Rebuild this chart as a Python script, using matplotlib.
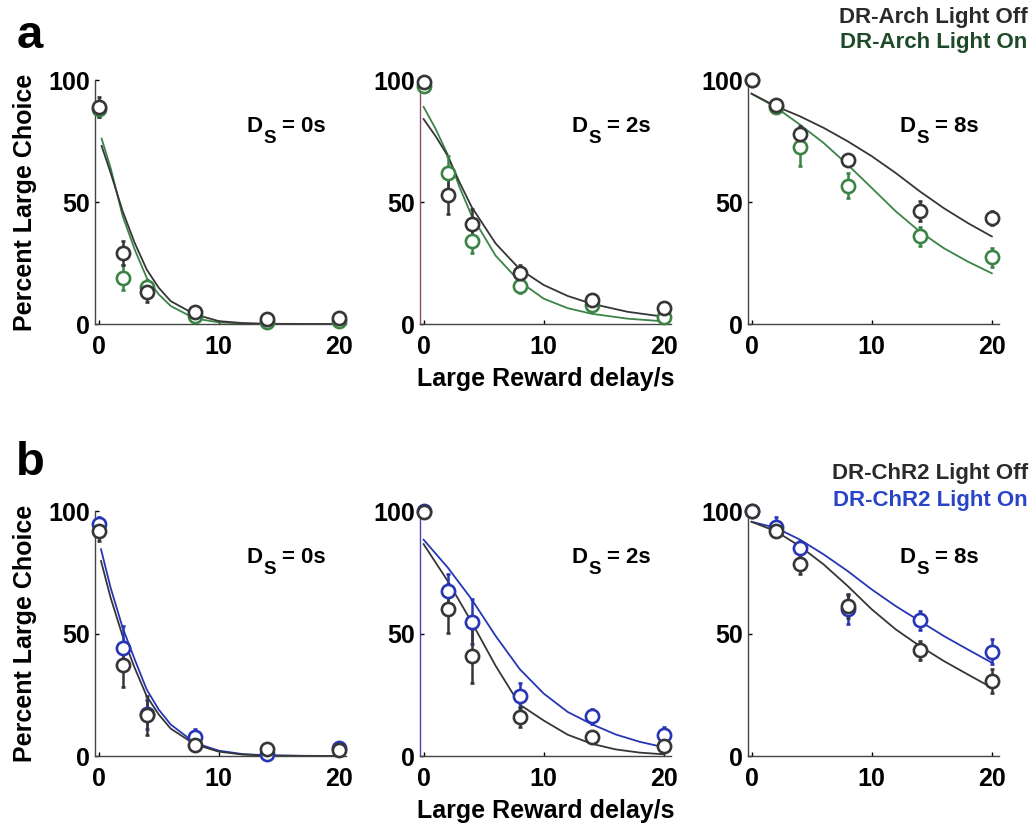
import matplotlib
matplotlib.use("Agg")
import matplotlib.pyplot as plt

plt.rcParams['font.family'] = ['Liberation Sans', 'DejaVu Sans']
plt.rcParams['font.weight'] = 'bold'

# reward delays (s)
delays = [0, 2, 4, 8, 14, 20]

# ---- row a: DR-Arch ----
# Ds = 0s
a1_off = [89, 29, 13, 5, 2.2, 2.3]
a1_off_err = [4, 5, 4, 1.5, 1, 1]
a1_on = [88, 19, 15, 3.3, 1, 1.2]
a1_on_err = [3, 5, 3, 1, 0.5, 0.5]
a1_fit_x = [0.25, 1, 2, 3, 4, 5, 6, 8, 10, 12, 14, 17, 20]
a1_fit_off = [73, 62, 46.3, 33.3, 22.4, 14.9, 9.4, 4.0, 1.2, 0.4, 0.1, 0.05, 0]
a1_fit_on = [76, 64, 44.3, 30.6, 19, 12.2, 7.4, 2.3, 0.7, 0.2, 0.05, 0, 0]

# Ds = 2s
a2_off = [99, 53, 41, 21, 10, 6.5]
a2_off_err = [1, 8, 6, 3, 2, 1.5]
a2_on = [97.5, 62, 34, 15.6, 7.6, 2.8]
a2_on_err = [1, 7, 5, 3, 2, 1]
a2_fit_x = [0, 1, 2, 3, 4, 6, 8, 10, 12, 14, 17, 20]
a2_fit_off = [84, 77, 69, 58, 48, 33, 22.5, 16, 11.5, 8.3, 5, 3]
a2_fit_on = [89, 80, 69.5, 56, 44.4, 28, 17.4, 10.4, 6.5, 4.2, 2.2, 1.1]

# Ds = 8s
a3_off = [100, 89.7, 78, 67.4, 46.4, 43.4]
a3_off_err = [0.5, 1, 3, 2, 4, 3]
a3_on = [100, 89, 72.6, 56.7, 35.9, 27.3]
a3_on_err = [0.5, 1, 8, 5, 4, 4]
a3_fit_x = [0, 2, 4, 6, 8, 10, 12, 14, 16, 18, 20]
a3_fit_off = [94.4, 89.3, 85.2, 80.4, 74.9, 68.8, 61.9, 54.4, 47.5, 41.4, 35.9]
a3_fit_on = [94.4, 88.9, 81.8, 74.2, 65.3, 55.8, 46.2, 37.9, 31.1, 25.6, 20.8]

# ---- row b: DR-ChR2 ----
b1_off = [91.8, 37, 16.6, 4.4, 2.7, 2.3]
b1_off_err = [4, 9, 8, 1.5, 1, 1]
b1_on = [94.6, 44.2, 17, 7.9, 0.7, 3.4]
b1_on_err = [3, 9, 6, 3, 0.5, 1]
b1_fit_x = [0.2, 1, 2, 3, 4, 5, 6, 8, 10, 12, 14, 17, 20]
b1_fit_off = [79.6, 64.6, 49, 36, 24.5, 17, 11.2, 4.8, 1.8, 0.6, 0.2, 0.05, 0]
b1_fit_on = [84.4, 68.7, 52.4, 39.5, 27.2, 19, 12.9, 5.4, 2.2, 0.8, 0.3, 0.1, 0]

b2_off = [99.7, 60.2, 40.7, 15.9, 7.6, 4.3]
b2_off_err = [0.5, 10, 11, 4, 1.5, 1]
b2_on = [100, 67.4, 54.9, 24.7, 16.2, 8.7]
b2_on_err = [0.5, 7, 9, 5, 3, 3]
b2_fit_x = [0, 2, 4, 6, 8, 10, 12, 14, 16, 18, 20]
b2_fit_off = [86.5, 71.5, 54.7, 36.8, 21, 14.5, 8.7, 5, 2.7, 1.4, 0.7]
b2_fit_on = [88.3, 77, 64, 49, 35.5, 25.5, 18, 13, 8.8, 5.8, 3.6]

b3_off = [100, 91.8, 78.5, 61.2, 43.1, 30.6]
b3_off_err = [0.5, 2, 4, 5, 4, 5]
b3_on = [100, 93.5, 84.8, 59.9, 55.4, 42.6]
b3_on_err = [0.5, 4, 3, 6, 4, 5]
b3_fit_x = [0, 2, 4, 6, 8, 10, 12, 14, 16, 18, 20]
b3_fit_off = [95.6, 91.8, 85.7, 78.2, 69.4, 59.9, 51.7, 44.9, 38.8, 33.3, 27.9]
b3_fit_on = [95.6, 93.2, 88.4, 82.3, 75.5, 68, 61.2, 55.1, 49, 43.5, 38.1]

ds_labels = ['0s', '2s', '8s']

dark = '#363636'
green = '#3b8446'
blue = '#2636b4'

fig = plt.figure(figsize=(10.36, 8.26), dpi=100)

lefts = [0.0917, 0.4054, 0.722]
rows = [
    (0.6077, 0.2954, green, [
        (a1_off, a1_off_err, a1_on, a1_on_err, a1_fit_x, a1_fit_off, a1_fit_on),
        (a2_off, a2_off_err, a2_on, a2_on_err, a2_fit_x, a2_fit_off, a2_fit_on),
        (a3_off, a3_off_err, a3_on, a3_on_err, a3_fit_x, a3_fit_off, a3_fit_on)]),
    (0.0847, 0.2966, blue, [
        (b1_off, b1_off_err, b1_on, b1_on_err, b1_fit_x, b1_fit_off, b1_fit_on),
        (b2_off, b2_off_err, b2_on, b2_on_err, b2_fit_x, b2_fit_off, b2_fit_on),
        (b3_off, b3_off_err, b3_on, b3_on_err, b3_fit_x, b3_fit_off, b3_fit_on)]),
]
mid_spine = ['#8a4f6f', '#5040b0']

for r, (bottom, height, col, panels) in enumerate(rows):
    for c, (off, off_e, on, on_e, fx, f_off, f_on) in enumerate(panels):
        ax = fig.add_axes([lefts[c], bottom, 0.2423, height])
        ax.plot(fx, f_on, color=col, lw=1.3, zorder=2)
        ax.plot(fx, f_off, color=dark, lw=1.3, zorder=2)
        for y, e, cc in [(on, on_e, col), (off, off_e, dark)]:
            eb = ax.errorbar(delays, y, yerr=e, fmt='o', mfc='white', mec=cc, ecolor=cc,
                             ms=9.5, mew=1.9, elinewidth=1.8, capsize=1.2, capthick=2,
                             zorder=3)
            for art in eb.get_children():
                art.set_clip_on(False)
        ax.set_xlim(-0.3, 20.6)
        ax.set_ylim(0, 100)
        ax.set_xticks([0, 10, 20])
        ax.set_yticks([0, 50, 100])
        for s in ['top', 'right']:
            ax.spines[s].set_visible(False)
        for s in ['left', 'bottom']:
            ax.spines[s].set_color('#444444')
            ax.spines[s].set_linewidth(1.0)
        if c == 1:
            ax.spines['left'].set_color(mid_spine[r])
        ax.tick_params(direction='in', length=3, width=1, labelsize=18)
        ax.tick_params(axis='x', pad=8)
        ax.tick_params(axis='y', pad=3.5)
        for lab in ax.get_xticklabels() + ax.get_yticklabels():
            lab.set_fontweight('bold')
        # "D_S = ..." annotation built from three pieces
        ax.annotate('D', (12.3, 78.7), fontsize=16, fontweight='bold',
                    ha='left', va='baseline')
        ax.annotate('S', (12.3, 78.7), xytext=(12.3, -8), textcoords='offset points',
                    fontsize=13.5, fontweight='bold', ha='left', va='baseline')
        ax.annotate('= ' + ds_labels[c], (12.3, 78.7), xytext=(26, 0),
                    textcoords='offset points', fontsize=16, fontweight='bold',
                    ha='left', va='baseline')
        ax.patch.set_alpha(0)
        if c == 0:
            ax.set_ylabel('Percent Large Choice', fontsize=18, fontweight='bold',
                          labelpad=8)
        if c == 1:
            ax.set_xlabel('Large Reward delay/s', fontsize=18, fontweight='bold',
                          labelpad=6)

fig.text(0.029, 0.9419, 'a', fontsize=34, fontweight='bold', ha='center', va='baseline')
fig.text(0.029, 0.425, 'b', fontsize=34, fontweight='bold', ha='center', va='baseline')

fig.text(0.992, 0.979, 'DR-Arch Light Off', color='#2a2a2a', fontsize=16,
         fontweight='bold', ha='right', va='center')
fig.text(0.992, 0.948, 'DR-Arch Light On', color='#1e4a28', fontsize=16,
         fontweight='bold', ha='right', va='center')
fig.text(0.992, 0.427, 'DR-ChR2 Light Off', color='#2a2a2a', fontsize=16,
         fontweight='bold', ha='right', va='center')
fig.text(0.992, 0.394, 'DR-ChR2 Light On', color='#2a44c8', fontsize=16,
         fontweight='bold', ha='right', va='center')

fig.savefig('out.png', dpi=100)
